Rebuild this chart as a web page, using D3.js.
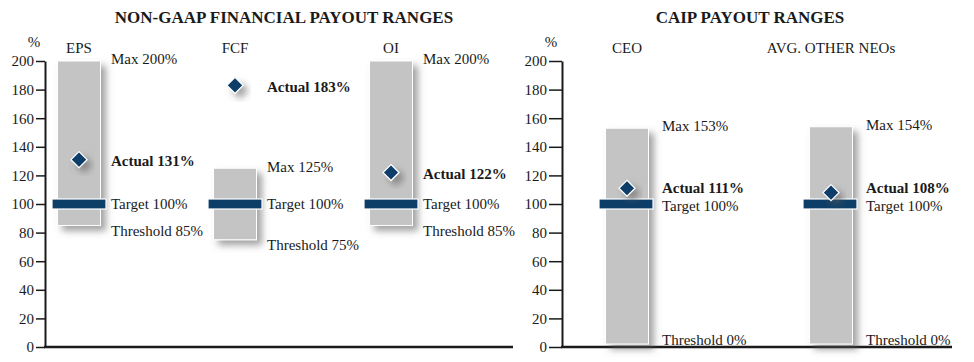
<!DOCTYPE html>
<html>
<head>
<meta charset="utf-8">
<script src="https://cdn.jsdelivr.net/npm/d3@7"></script>
<style>
  body { margin: 0; background: #fff; }
  svg { display: block; }
  svg text { font-family: 'Liberation Serif', 'Times New Roman', serif !important; }
</style>
</head>
<body>
<svg id="chart" width="974" height="362"></svg>
<script>
// left panel: non-GAAP metrics
const metrics = ['EPS', 'FCF', 'OI'];
const metricMax = [200, 125, 200];
const metricThreshold = [85, 75, 85];
const metricTarget = [100, 100, 100];
const metricActual = [131, 183, 122];

// right panel: CAIP
const roles = ['CEO', 'AVG. OTHER NEOs'];
const roleMax = [153, 154];
const roleThreshold = [0, 0];
const roleTarget = [100, 100];
const roleActual = [111, 108];

const yTicks = [0, 20, 40, 60, 80, 100, 120, 140, 160, 180, 200];

const FONT = "'Liberation Serif', serif";
const NAVY = '#0d3e68';
const GRAY = '#c4c4c4';
const INK = '#1a1a1a';
const BAR_W = 43;
const TARGET_W = 54;
const TARGET_H = 10;

const svg = d3.select('#chart').attr('font-family', FONT);

const defs = svg.append('defs');
defs.append('filter')
    .attr('id', 'shadow')
    .attr('x', '-30%').attr('y', '-30%')
    .attr('width', '180%').attr('height', '180%')
  .append('feDropShadow')
    .attr('dx', 5).attr('dy', 5)
    .attr('stdDeviation', 3.5)
    .attr('flood-color', '#555')
    .attr('flood-opacity', 0.55);

const y = d3.scaleLinear().domain([0, 200]).range([347, 61]);

function panel(opts) {
  const g = svg.append('g').attr('font-family', FONT);
  const x = d3.scalePoint().domain(opts.cats).range(opts.xRange);

  g.append('text')
    .attr('x', opts.titleX).attr('y', 23)
    .attr('text-anchor', 'middle')
    .attr('font-family', FONT)
    .attr('font-size', 17).attr('font-weight', 'bold')
    .attr('fill', INK)
    .text(opts.title);

  g.append('text')
    .attr('x', opts.axisX - 11).attr('y', 47)
    .attr('text-anchor', 'middle')
    .attr('font-family', FONT)
    .attr('font-size', 15).attr('fill', INK)
    .text('%');

  // y axis
  const axis = g.append('g')
    .attr('transform', `translate(${opts.axisX},0)`)
    .call(d3.axisLeft(y).tickValues(yTicks).tickSize(opts.tickSize).tickPadding(2).tickSizeOuter(0))
    .attr('font-family', FONT);
  axis.select('.domain').attr('stroke', INK).attr('stroke-width', 2);
  axis.selectAll('.tick line').attr('stroke', INK).attr('stroke-width', 1.5);
  axis.selectAll('.tick text')
    .attr('font-size', 15).attr('fill', INK)
    .attr('font-family', FONT);

  // baseline
  g.append('line')
    .attr('x1', opts.axisX - 1).attr('x2', opts.axisEnd)
    .attr('y1', y(0)).attr('y2', y(0))
    .attr('stroke', INK).attr('stroke-width', 2.5);

  const rows = opts.cats.map((c, i) => ({
    cat: c, max: opts.max[i], thr: opts.thr[i], target: opts.target[i], actual: opts.actual[i]
  }));

  g.selectAll('.cat-label')
    .data(rows).join('text')
    .attr('x', d => x(d.cat)).attr('y', 53)
    .attr('text-anchor', 'middle')
    .attr('font-family', FONT)
    .attr('font-size', 15).attr('fill', INK)
    .text(d => d.cat);

  // range bars
  g.selectAll('.range')
    .data(rows).join('rect')
    .attr('x', d => x(d.cat) - BAR_W / 2)
    .attr('y', d => y(d.max))
    .attr('width', BAR_W)
    .attr('height', d => y(d.thr) - y(d.max) - (d.thr === 0 ? 3 : 0))
    .attr('fill', GRAY)
    .attr('stroke', '#fff').attr('stroke-width', 1)
    .attr('filter', 'url(#shadow)');

  // target bars
  g.selectAll('.target')
    .data(rows).join('rect')
    .attr('x', d => x(d.cat) - TARGET_W / 2 + opts.targetShift)
    .attr('y', d => y(d.target) - TARGET_H / 2)
    .attr('width', TARGET_W)
    .attr('height', TARGET_H)
    .attr('fill', NAVY)
    .attr('stroke', '#fff').attr('stroke-width', 1.2);

  // actual diamonds
  g.selectAll('.actual')
    .data(rows).join('path')
    .attr('transform', d => `translate(${x(d.cat)},${y(d.actual)})`)
    .attr('d', 'M0,-8L8,0L0,8L-8,0Z')
    .attr('fill', NAVY)
    .attr('stroke', '#fff').attr('stroke-width', 1.2)
    .attr('filter', 'url(#shadow)');

  const lx = d => x(d.cat) + opts.labelOffset;
  const label = (cls, yf, tf, bold) => g.selectAll('.' + cls)
    .data(rows).join('text')
    .attr('class', cls)
    .attr('x', lx).attr('y', yf)
    .attr('dy', '0.35em')
    .attr('font-family', FONT)
    .attr('font-size', 15)
    .attr('font-weight', bold ? 'bold' : 'normal')
    .attr('fill', INK)
    .text(tf);

  label('max', d => y(d.max) - 2, d => `Max ${d.max}%`);
  label('act', d => Math.min(y(d.actual) + 1, y(d.target) - 16), d => `Actual ${d.actual}%`, true);
  label('tgt', d => y(d.target) + (opts.targetLabelShift || 0), d => `Target ${d.target}%`);
  label('thr', d => Math.min(y(d.thr) + 5, y(0) - 7), d => `Threshold ${d.thr}%`);
}

panel({
  title: 'NON-GAAP FINANCIAL PAYOUT RANGES', titleX: 284,
  cats: metrics, max: metricMax, thr: metricThreshold, target: metricTarget, actual: metricActual,
  xRange: [79, 391], axisX: 45, axisEnd: 513, tickSize: 9,
  labelOffset: 32, targetShift: 0
});

panel({
  title: 'CAIP PAYOUT RANGES', titleX: 750,
  cats: roles, max: roleMax, thr: roleThreshold, target: roleTarget, actual: roleActual,
  xRange: [627, 831], axisX: 562, axisEnd: 952, tickSize: 13,
  labelOffset: 35, targetShift: -1, targetLabelShift: 2
});
</script>
</body>
</html>
